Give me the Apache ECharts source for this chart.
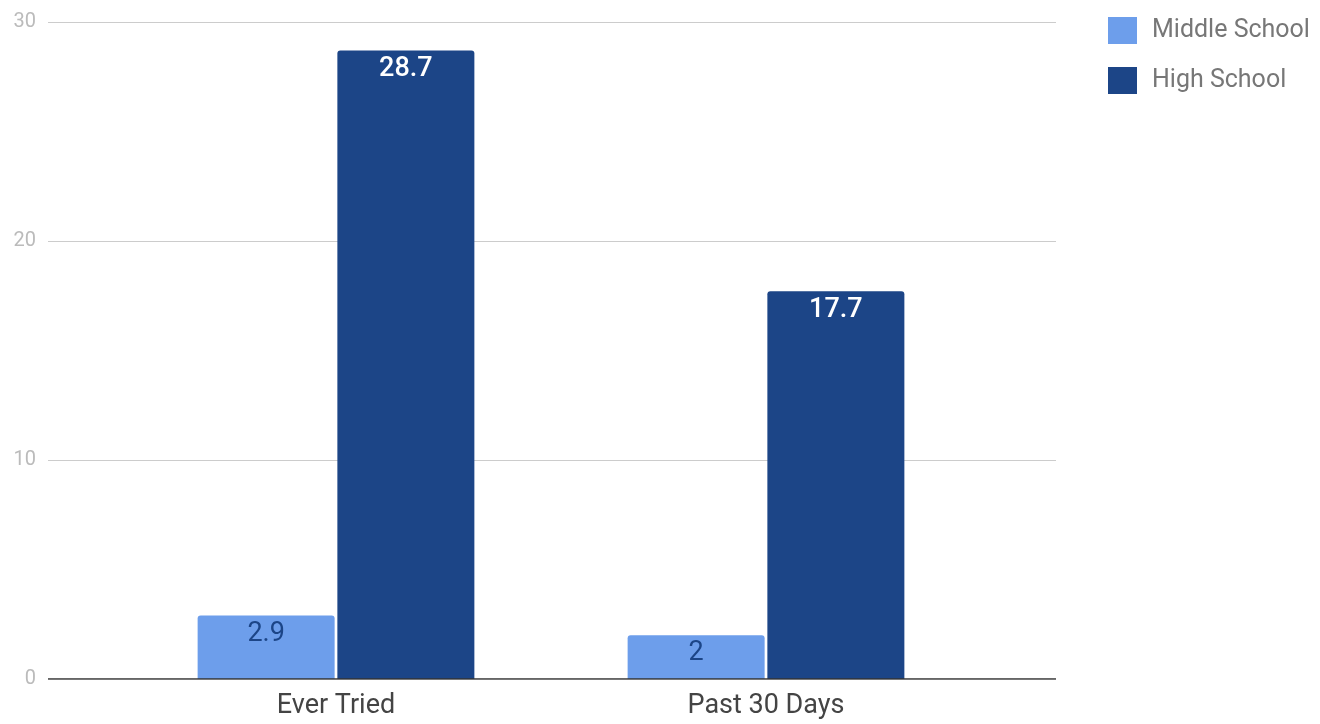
<!DOCTYPE html>
<html><head><meta charset="utf-8">
<script src="https://cdn.jsdelivr.net/npm/echarts@6/dist/echarts.min.js"></script>
<style>html,body{margin:0;padding:0;background:#fff}#c{width:1320px;height:724px}</style>
</head><body><div id="c"></div>
<script>
const categories = ['Ever Tried', 'Past 30 Days'];
const middleSchool = [2.9, 2];
const highSchool = [28.7, 17.7];
const yTicks = [0, 10, 20, 30];

const chart = echarts.init(document.getElementById('c'));
const font = 'Roboto, "Noto Sans", sans-serif';
chart.setOption({
  animation: false,
  textStyle: { fontFamily: font },
  legend: {
    orient: 'vertical', left: 1103, top: 12, itemWidth: 29, itemHeight: 27, itemGap: 23,
    icon: 'rect',
    textStyle: { fontSize: 25, color: '#777', fontFamily: font, padding: [0, 0, 3, 10] },
    data: ['Middle School', 'High School']
  },
  grid: [
    { left: 48, right: 264, top: 22, bottom: 45 },
    { left: 121, right: 339, top: 22, bottom: 45 }
  ],
  xAxis: [
    { gridIndex: 0, type: 'value', min: 0, max: 1, show: false },
    { gridIndex: 1, type: 'category', data: categories,
      axisLine: { show: false }, axisTick: { show: false },
      axisLabel: { fontSize: 27, color: '#444', margin: 14, fontFamily: font } }
  ],
  yAxis: [
    { gridIndex: 0, type: 'value', min: yTicks[0], max: yTicks[yTicks.length - 1], interval: 10,
      axisLine: { show: false }, axisTick: { show: false },
      splitLine: { lineStyle: { color: '#ccc', width: 1 } },
      axisLabel: { fontSize: 20, color: '#bbb', margin: 12, fontFamily: font } },
    { gridIndex: 1, type: 'value', min: yTicks[0], max: yTicks[yTicks.length - 1], interval: 10, show: false }
  ],
  series: [
    { type: 'line', xAxisIndex: 0, yAxisIndex: 0, data: [[0, 0], [1, 0]], symbol: 'none',
      lineStyle: { color: '#333', width: 1.5 }, silent: true, z: 5 },
    { name: 'Middle School', type: 'bar', xAxisIndex: 1, yAxisIndex: 1, data: middleSchool,
      barWidth: 137, barGap: '2%',
      itemStyle: { color: '#6d9eeb', borderRadius: [3, 3, 0, 0] },
      label: { show: true, position: 'insideTop', distance: 5, fontSize: 27, color: '#1c4587', fontFamily: font } },
    { name: 'High School', type: 'bar', xAxisIndex: 1, yAxisIndex: 1, data: highSchool,
      barWidth: 137,
      itemStyle: { color: '#1c4587', borderRadius: [3, 3, 0, 0] },
      label: { show: true, position: 'insideTop', distance: 5, fontSize: 27, color: '#fff', fontWeight: 500, fontFamily: font } }
  ]
});
</script></body></html>
